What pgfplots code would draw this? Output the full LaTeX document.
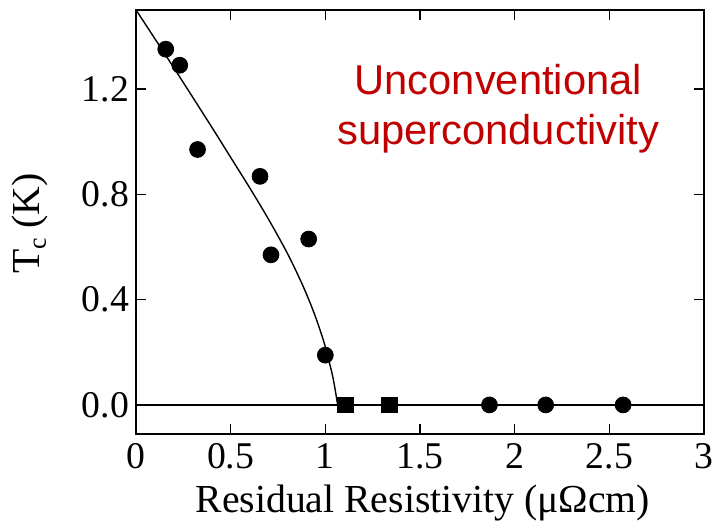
\documentclass[border=0pt]{standalone}
\usepackage{pgfplots}
\pgfplotsset{compat=1.18}
\usepackage{fontspec}
\setmainfont{Liberation Serif}
\newfontfamily\redsans{Liberation Sans}
\definecolor{ucred}{RGB}{192,0,0}
\begin{document}
\begin{tikzpicture}
\begin{axis}[
 at={(0,0)}, anchor=south west,
 scale only axis, width=286pt, height=213.5pt,
 xmin=0, xmax=3, ymin=-0.11, ymax=1.5,
 xtick={0,0.5,1,1.5,2,2.5,3},
 ytick={0,0.4,0.8,1.2},
 xticklabels={0,0.5,1,1.5,2,2.5,3},
 yticklabels={0.0,0.4,0.8,1.2},
 tick align=inside, major tick length=5pt,
 axis line style={line width=1pt},
 tick style={line width=0.6pt,black},
 ticklabel style={font=\fontsize{19}{22}\selectfont},
 xticklabel style={yshift=-1.5pt},
 /pgf/number format/assume math mode=true,
 xlabel={Residual Resistivity (μΩcm)},
 ylabel={T\raisebox{-0.35ex}{\fontsize{13}{13}\selectfont c} (K)},
 label style={font=\fontsize{20}{24}\selectfont},
 xlabel style={at={(axis description cs:0.505,-0.162)}, anchor=center},
 ylabel style={at={(axis description cs:-0.187,0.496)}, anchor=center, rotate=0},
 clip=false,
]
\addplot[black, line width=0.7pt] coordinates {(0,0) (3,0)};
\addplot[black, line width=0.7pt, smooth] coordinates {
 (0,1.50) (0.2,1.28) (0.4,1.055) (0.5,0.94) (0.6,0.825) (0.7,0.705) (0.8,0.575)
 (0.88,0.455) (0.94,0.35) (0.99,0.245) (1.02,0.165) (1.04,0.105)
 (1.055,0.045) (1.065,0)};
\addplot[only marks, mark=*, mark size=4pt, black] coordinates {
 (0.157,1.351) (0.231,1.29) (0.325,0.97) (0.655,0.868) (0.713,0.57)
 (0.912,0.63) (1.0,0.189) (1.867,0) (2.164,0) (2.573,0)};
\addplot[only marks, mark=square*, mark size=4pt, black] coordinates {
 (1.106,0) (1.337,0)};
\node[align=center, text=ucred, font=\redsans\fontsize{21}{25}\selectfont]
 at (axis cs:1.914,1.125) {Unconventional\\superconductivity};
\end{axis}
\path[use as bounding box] (-68.5pt,-44.5pt) rectangle (291.5pt,218.5pt);
\end{tikzpicture}
\end{document}
